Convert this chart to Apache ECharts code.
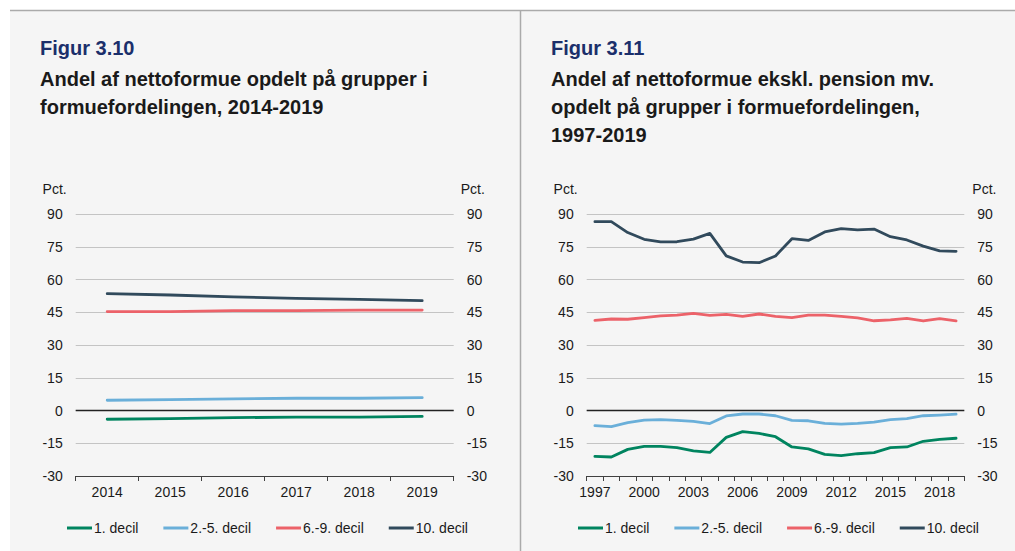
<!DOCTYPE html>
<html>
<head>
<meta charset="utf-8">
<script src="https://cdn.jsdelivr.net/npm/echarts@6/dist/echarts.min.js"></script>
<style>
html,body{margin:0;padding:0;background:#fff;}
#c{width:1015px;height:551px;}
</style>
</head>
<body>
<div id="c"></div>
<script>
// ---- Data ----
const seriesNames = ['1. decil', '2.-5. decil', '6.-9. decil', '10. decil'];
const yearsA = ['2014', '2015', '2016', '2017', '2018', '2019'];
const a_d1   = [-4.0, -3.7, -3.3, -3.0, -3.0, -2.7];
const a_d25  = [4.7, 5.0, 5.3, 5.6, 5.6, 5.9];
const a_d69  = [45.3, 45.3, 45.7, 45.7, 46.0, 46.0];
const a_d10  = [53.5, 52.9, 52.0, 51.4, 50.9, 50.3];

const yearsB = ['1997','1998','1999','2000','2001','2002','2003','2004','2005','2006','2007','2008',
                '2009','2010','2011','2012','2013','2014','2015','2016','2017','2018','2019'];
const b_d1  = [-21.0,-21.3,-17.8,-16.4,-16.4,-17.0,-18.5,-19.2,-12.3,-9.7,-10.5,-12.0,
               -16.7,-17.6,-20.1,-20.7,-19.8,-19.3,-17.0,-16.7,-14.1,-13.2,-12.7];
const b_d25 = [-6.9,-7.4,-5.6,-4.4,-4.2,-4.5,-5.0,-6.0,-2.5,-1.6,-1.6,-2.4,
               -4.5,-4.7,-5.9,-6.2,-5.9,-5.3,-4.2,-3.7,-2.4,-2.1,-1.7];
const b_d69 = [41.3,41.9,41.8,42.5,43.3,43.7,44.5,43.6,44.0,43.1,44.2,43.1,
               42.5,43.7,43.7,43.1,42.4,41.1,41.5,42.2,41.0,42.1,41.1];
const b_d10 = [86.5,86.5,81.5,78.4,77.2,77.3,78.5,81.1,70.8,68.0,67.7,70.8,
               78.7,77.9,81.8,83.3,82.7,83.1,79.6,78.1,75.3,73.1,72.9];

const yMin = -30, yMax = 90, yStep = 15;

const titles = [
  {fig: 'Figur 3.10', sub: 'Andel af nettoformue opdelt på grupper i\nformuefordelingen, 2014-2019'},
  {fig: 'Figur 3.11', sub: 'Andel af nettoformue ekskl. pension mv.\nopdelt på grupper i formuefordelingen,\n1997-2019'}
];

// ---- Styles ----
const colors = ['#00845f', '#6aafd9', '#ec6269', '#314a5c'];
const FONT = 'Liberation Sans, Arial, Helvetica, sans-serif';
const txt = '#1a1a1a';

const chart = echarts.init(document.getElementById('c'), null, {renderer: 'svg'});

function yAxes(gridIndex, side, pad) {
  return {
    type: 'value', gridIndex: gridIndex, position: side,
    min: yMin, max: yMax, interval: yStep,
    name: 'Pct.', nameLocation: 'end', nameGap: 18,
    nameTextStyle: {
      fontFamily: FONT, fontSize: 14, color: txt,
      align: side === 'left' ? 'right' : 'left',
      padding: side === 'left' ? [0, pad, 0, 0] : [0, 0, 0, pad]
    },
    axisLine: {show: false}, axisTick: {show: false},
    axisLabel: {fontFamily: FONT, fontSize: 14, color: txt, margin: 13},
    splitLine: {show: side === 'left', lineStyle: {color: '#c4c4c4', width: 1}}
  };
}

function xAxis(gridIndex, data, labelInterval) {
  return {
    type: 'category', gridIndex: gridIndex, data: data, boundaryGap: true,
    axisLine: {onZero: false, lineStyle: {color: '#404040', width: 1}},
    axisTick: {show: true, interval: 0, length: 5, lineStyle: {color: '#404040'}},
    axisLabel: {fontFamily: FONT, fontSize: 14, color: txt, margin: 9, interval: labelInterval},
    splitLine: {show: false}
  };
}

function lineSeries(name, data, gi, idx, withZero) {
  const s = {
    name: name, type: 'line', data: data,
    xAxisIndex: gi, yAxisIndex: gi * 2,
    showSymbol: false, symbol: 'none',
    lineStyle: {color: colors[idx], width: 2.8, join: 'round', cap: 'round'},
    itemStyle: {color: colors[idx]},
    z: 3
  };
  if (withZero) {
    s.markLine = {
      silent: true, symbol: 'none', label: {show: false},
      lineStyle: {color: '#222', width: 1.3, type: 'solid'},
      data: [{yAxis: 0}], z: 2
    };
  }
  return s;
}

const option = {
  backgroundColor: '#ffffff',
  animation: false,
  graphic: [
    {type: 'rect', shape: {x: 10, y: 10, width: 1005, height: 541}, style: {fill: '#f5f5f5'}, z: -10, silent: true},
    {type: 'line', shape: {x1: 10, y1: 10.5, x2: 1015, y2: 10.5}, style: {stroke: '#aaaaaa', lineWidth: 1.5}, z: -9, silent: true},
    {type: 'line', shape: {x1: 520.5, y1: 10, x2: 520.5, y2: 551}, style: {stroke: '#aaaaaa', lineWidth: 1.5}, z: -9, silent: true}
  ],
  title: titles.map((t, i) => ({
    text: t.fig, subtext: t.sub,
    left: i === 0 ? 40 : 551, top: 38, padding: 0, itemGap: 7,
    textStyle: {fontFamily: FONT, fontSize: 20, fontWeight: 'bold', color: '#1b2f6b', lineHeight: 20},
    subtextStyle: {fontFamily: FONT, fontSize: 20, fontWeight: 'bold', color: txt, lineHeight: 28}
  })),
  legend: [0, 1].map(i => ({
    data: seriesNames, left: i === 0 ? 67 : 578, top: 521, padding: 0,
    icon: 'rect', itemWidth: 25, itemHeight: 3, itemGap: 25,
    textStyle: {fontFamily: FONT, fontSize: 14, color: txt, padding: [0, 0, 0, -3]},
    selectedMode: false
  })),
  grid: [
    {left: 75.7, right: 561.3, top: 214, bottom: 75, containLabel: false},
    {left: 586.7, right: 50.7, top: 214, bottom: 75, containLabel: false}
  ],
  xAxis: [xAxis(0, yearsA, 0), xAxis(1, yearsB, 2)],
  yAxis: [yAxes(0, 'left', 9), yAxes(0, 'right', 7), yAxes(1, 'left', 9), yAxes(1, 'right', 8)],
  series: [
    lineSeries(seriesNames[0], a_d1, 0, 0, true),
    lineSeries(seriesNames[1], a_d25, 0, 1),
    lineSeries(seriesNames[2], a_d69, 0, 2),
    lineSeries(seriesNames[3], a_d10, 0, 3),
    lineSeries(seriesNames[0], b_d1, 1, 0, true),
    lineSeries(seriesNames[1], b_d25, 1, 1),
    lineSeries(seriesNames[2], b_d69, 1, 2),
    lineSeries(seriesNames[3], b_d10, 1, 3)
  ]
};
chart.setOption(option);
</script>
</body>
</html>
